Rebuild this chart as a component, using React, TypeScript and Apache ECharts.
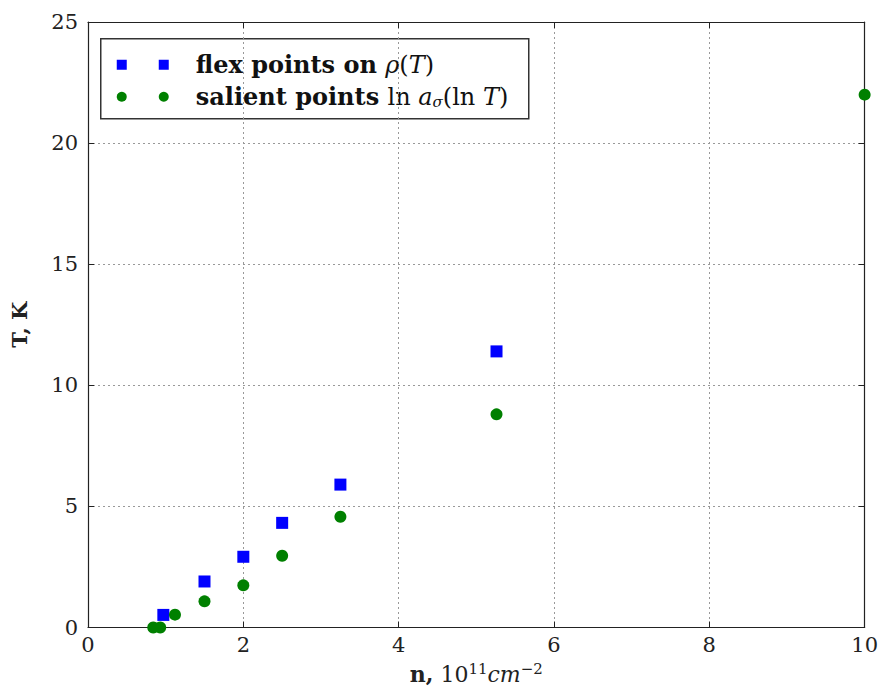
import React, { useEffect, useRef } from "react";
import * as echarts from "echarts";

const flexN = [0.97, 1.5, 2.0, 2.5, 3.25, 5.26];
const flexT = [0.52, 1.9, 2.92, 4.32, 5.9, 11.4];
const salientN = [0.84, 0.93, 1.12, 1.5, 2.0, 2.5, 3.25, 5.26, 10.0];
const salientT = [0.0, 0.0, 0.53, 1.08, 1.74, 2.96, 4.57, 8.8, 22.0];
const xTicks = [0, 2, 4, 6, 8, 10];
const yTicks = [0, 5, 10, 15, 20, 25];

const FONT = "DejaVu Serif";

export default function App() {
  const ref = useRef<HTMLDivElement>(null);
  useEffect(() => {
    document.body.style.margin = "0";
    const chart = echarts.init(ref.current!, null, { renderer: "svg" });
    const axisCommon = {
      type: "value" as const,
      axisLine: { show: true, onZero: false, lineStyle: { color: "#222", width: 1.2 } },
      axisTick: { show: true, inside: true, length: 6, lineStyle: { color: "#222" } },
    };
    const txt = { fontFamily: FONT, fontSize: 24, fill: "#111" };
    chart.setOption({
      animation: false,
      backgroundColor: "#fff",
      textStyle: { fontFamily: FONT },
      grid: { left: 88, right: 15, top: 22, bottom: 62 },
      xAxis: [
        {
          ...axisCommon,
          position: "bottom",
          min: xTicks[0],
          max: xTicks[xTicks.length - 1],
          interval: 2,
          axisLabel: { color: "#222", fontFamily: FONT, fontSize: 21, margin: 7 },
          splitLine: { show: true, lineStyle: { color: "#999", type: [2, 3], width: 1 } },
          name: "{b|n,} {r|10}{sup|11}{i|cm}{sup|−2}",
          nameLocation: "middle",
          nameGap: 34,
          nameTextStyle: {
            fontFamily: FONT,
            fontSize: 22,
            rich: {
              b: { fontFamily: FONT, fontSize: 22, fontWeight: "bold", color: "#222" },
              r: { fontFamily: FONT, fontSize: 22, color: "#222" },
              i: { fontFamily: FONT, fontSize: 22, fontStyle: "italic", color: "#222" },
              sup: { fontFamily: FONT, fontSize: 15, color: "#222", verticalAlign: "top", padding: [0, 0, 10, 0] },
            },
          },
        },
        {
          ...axisCommon,
          position: "top",
          min: xTicks[0],
          max: xTicks[xTicks.length - 1],
          interval: 2,
          axisLabel: { show: false },
          splitLine: { show: false },
        },
      ],
      yAxis: [
        {
          ...axisCommon,
          position: "left",
          min: yTicks[0],
          max: yTicks[yTicks.length - 1],
          interval: 5,
          axisLabel: { color: "#222", fontFamily: FONT, fontSize: 21, margin: 10 },
          splitLine: { show: true, lineStyle: { color: "#999", type: [2, 3], width: 1 } },
          name: "T, K",
          nameLocation: "middle",
          nameGap: 58,
          nameTextStyle: { fontFamily: FONT, fontSize: 21, fontWeight: "bold", color: "#222" },
        },
        {
          ...axisCommon,
          position: "right",
          min: yTicks[0],
          max: yTicks[yTicks.length - 1],
          interval: 5,
          axisLabel: { show: false },
          splitLine: { show: false },
        },
      ],
      series: [
        {
          name: "flex",
          type: "scatter",
          symbol: "rect",
          symbolSize: 12,
          itemStyle: { color: "#0000ff", opacity: 1 },
          data: flexN.map((n, i) => [n, flexT[i]]),
          clip: true,
          z: 3,
        },
        {
          name: "salient",
          type: "scatter",
          symbol: "circle",
          symbolSize: 12,
          itemStyle: { color: "#008000", opacity: 1 },
          data: salientN.map((n, i) => [n, salientT[i]]),
          clip: true,
          z: 4,
        },
      ],
      graphic: [
        {
          type: "group",
          left: 100,
          top: 38,
          children: [
            { type: "rect", shape: { x: 0, y: 0, width: 428, height: 80 }, style: { fill: "#fff", stroke: "#333", lineWidth: 1.5 } },
            { type: "rect", shape: { x: 16, y: 21, width: 10, height: 10 }, style: { fill: "#0000ff" } },
            { type: "rect", shape: { x: 58, y: 21, width: 10, height: 10 }, style: { fill: "#0000ff" } },
            { type: "circle", shape: { cx: 21, cy: 58, r: 5 }, style: { fill: "#008000" } },
            { type: "circle", shape: { cx: 63, cy: 58, r: 5 }, style: { fill: "#008000" } },
            {
              type: "text",
              x: 95,
              y: 26,
              style: {
                ...txt,
                fontWeight: "bold",
                text: "flex points on {i|ρ}{n|(}{i|T}{n|)}",
                verticalAlign: "middle",
                rich: {
                  i: { ...txt, fontStyle: "italic" },
                  n: { ...txt },
                },
              },
            },
            {
              type: "text",
              x: 95,
              y: 58,
              style: {
                ...txt,
                fontWeight: "bold",
                text: "salient points {n|ln }{i|a}{s|σ}{n|(ln }{i|T}{n|)}",
                verticalAlign: "middle",
                rich: {
                  i: { ...txt, fontStyle: "italic" },
                  n: { ...txt },
                  s: { ...txt, fontSize: 15, fontStyle: "italic", verticalAlign: "bottom", padding: [11, 0, 0, 0] },
                },
              },
            },
          ],
        },
      ],
    });
    return () => chart.dispose();
  }, []);
  return <div ref={ref} style={{ width: 881, height: 690, position: "absolute", left: 0, top: 0 }} />;
}
